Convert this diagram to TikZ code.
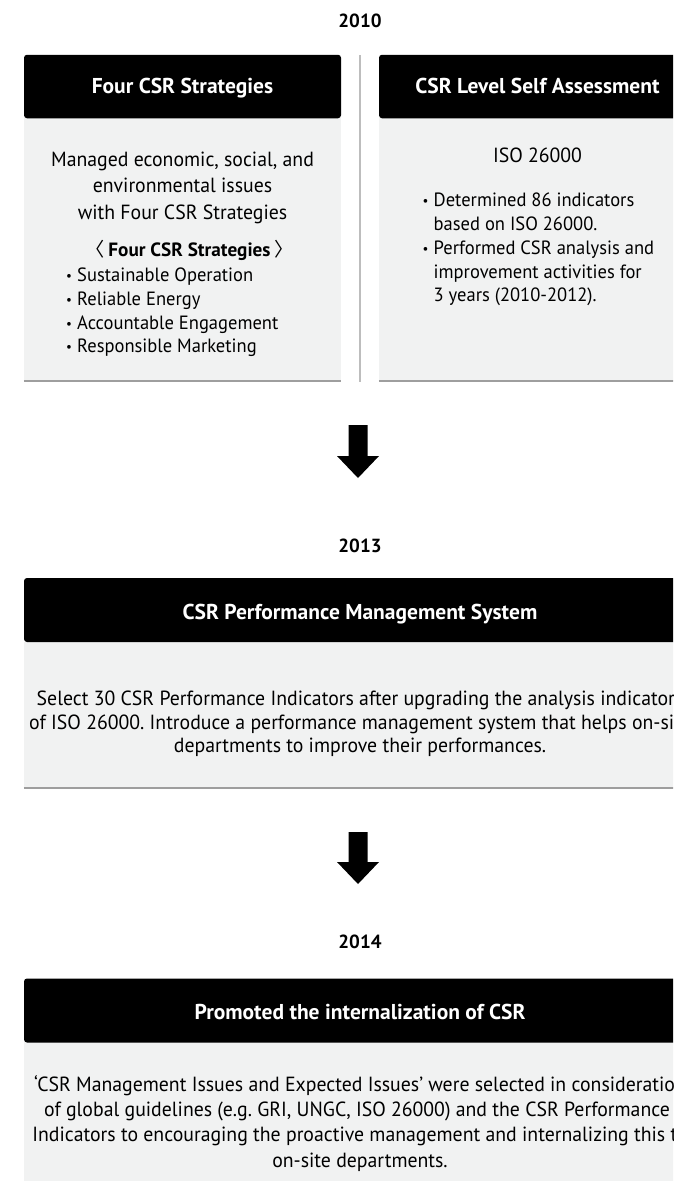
\documentclass[tikz,border=0pt]{standalone}
\usepackage{fontspec}
\setmainfont{PT Sans}[FakeStretch=0.965,BoldFeatures={FakeStretch=1.0}]
\newfontfamily\cjk{Noto Sans CJK SC}
\definecolor{panelgray}{HTML}{F1F2F2}
\definecolor{rulegray}{HTML}{9E9E9E}
\definecolor{divgray}{HTML}{BDBDBD}
\newcommand\yrfs{\fontsize{19}{22}\selectfont}
\newcommand\hdrfs{\fontsize{21.5}{24}\selectfont}
\newcommand\bodyfs{\fontsize{20.5}{24}\selectfont}
\newcommand\bulfs{\fontsize{19.2}{23}\selectfont}
\newcommand\bul{\makebox[11pt][l]{\raisebox{0.8pt}{\scalebox{0.7}{\textbullet}}}}
\frenchspacing
\begin{document}
\begin{tikzpicture}[x=1pt,y=-1pt,
  yr/.style={anchor=base,inner sep=0pt,font=\yrfs\bfseries},
  hdr/.style={fill=black,rounded corners=3pt,minimum width=317pt,minimum height=63.5pt,inner sep=0pt},
  htxt/.style={anchor=base,inner sep=0pt,text=white,font=\hdrfs\bfseries},
  panel/.style={fill=panelgray,inner sep=0pt},
  ctxt/.style={anchor=base,inner sep=0pt,font=\bodyfs},
  btxt/.style={anchor=base west,inner sep=0pt,font=\bulfs},
  rule/.style={draw=rulegray,line width=1.6pt},
  blockarrow/.style={fill=black}]
\path[use as bounding box] (0,0) rectangle (673,1181);
\clip (0,0) rectangle (673,1181);

% ---------------- 2010 ----------------
\node[yr] (y2010) at (360,27.3) {2010};

% left column
\node[panel,minimum width=317pt,minimum height=263pt] (p1) at (182.5,249.5) {};
\node[hdr] (h1) at (182.5,86.5) {};
\node[htxt] (h1t) at (182.5,93.5) {Four CSR Strategies};
\draw[rule] (p1.south west) -- (p1.south east);
\node[ctxt] (l1a) at (182.5,166) {Managed economic, social, and};
\node[ctxt] (l1b) at (182.5,192.5) {environmental issues};
\node[ctxt] (l1c) at (182.5,219) {with Four CSR Strategies};
\node[ctxt,font=\bulfs] (l1d) at (189.5,256) {{\cjk 〈}\kern3.5pt\textbf{Four CSR Strategies}\kern3.5pt{\cjk 〉}};
\node[btxt] (l1e) at (66,281.5) {\bul Sustainable Operation};
\node[btxt] (l1f) at (66,305.3) {\bul Reliable Energy};
\node[btxt] (l1g) at (66,329) {\bul Accountable Engagement};
\node[btxt] (l1h) at (66,352.7) {\bul Responsible Marketing};

% divider
\coordinate (dtop) at (360,55);
\coordinate (dbot) at (360,382);
\draw[divgray,line width=1.4pt] (dtop) -- (dbot);

% right column
\node[panel,minimum width=317pt,minimum height=263pt] (p2) at (537.5,249.5) {};
\node[hdr] (h2) at (537.5,86.5) {};
\node[htxt] (h2t) at (537.5,93.5) {CSR Level Self Assessment};
\draw[rule] (p2.south west) -- (p2.south east);
\node[ctxt] (r1a) at (537.5,162.7) {ISO 26000};
\node[btxt] (r1b) at (422.5,206) {\bul Determined 86 indicators};
\node[btxt] (r1c) at (422.5,230) {\hphantom{\bul}based on ISO 26000.};
\node[btxt] (r1d) at (422.5,254) {\bul Performed CSR analysis and};
\node[btxt] (r1e) at (422.5,278) {\hphantom{\bul}improvement activities for};
\node[btxt] (r1f) at (422.5,301.7) {\hphantom{\bul}3 years (2010-2012).};

% arrow to 2013
\fill[blockarrow] (348.5,425) -- (367.5,425) -- (367.5,456) -- (379,456)
  -- (358,478) -- (337,456) -- (348.5,456) -- cycle;

% ---------------- 2013 ----------------
\node[yr] (y2013) at (360,552.7) {2013};
\node[panel,minimum width=672pt,minimum height=146pt] (p3) at (360,715) {};
\node[hdr,minimum width=672pt,minimum height=64pt] (h3) at (360,610) {};
\node[htxt] (h3t) at (360,619) {CSR Performance Management System};
\draw[rule] (p3.south west) -- (p3.south east);
\node[ctxt] (m1a) at (360,705.7) {Select 30 CSR Performance Indicators after upgrading the analysis indicators};
\node[ctxt] (m1b) at (360,729.3) {of ISO 26000. Introduce a performance management system that helps on-site};
\node[ctxt] (m1c) at (360,752.7) {departments to improve their performances.};

% arrow to 2014
\fill[blockarrow] (348.5,832) -- (367.5,832) -- (367.5,862) -- (379,862)
  -- (358,884) -- (337,862) -- (348.5,862) -- cycle;

% ---------------- 2014 ----------------
\node[yr] (y2014) at (360,948.3) {2014};
\node[panel,minimum width=672pt,minimum height=150pt] (p4) at (360,1117) {};
\node[hdr,minimum width=672pt,minimum height=64pt] (h4) at (360,1010.5) {};
\node[htxt] (h4t) at (360,1019) {Promoted the internalization of CSR};
\node[ctxt] (n1a) at (360,1091.7) {‘CSR Management Issues and Expected Issues’ were selected in consideration};
\node[ctxt] (n1b) at (357,1116.7) {of global guidelines (e.g. GRI, UNGC, ISO 26000) and the CSR Performance};
\node[ctxt] (n1c) at (360,1141.7) {Indicators to encouraging the proactive management and internalizing this to};
\node[ctxt] (n1d) at (360,1167) {on-site departments.};
\end{tikzpicture}
\end{document}
